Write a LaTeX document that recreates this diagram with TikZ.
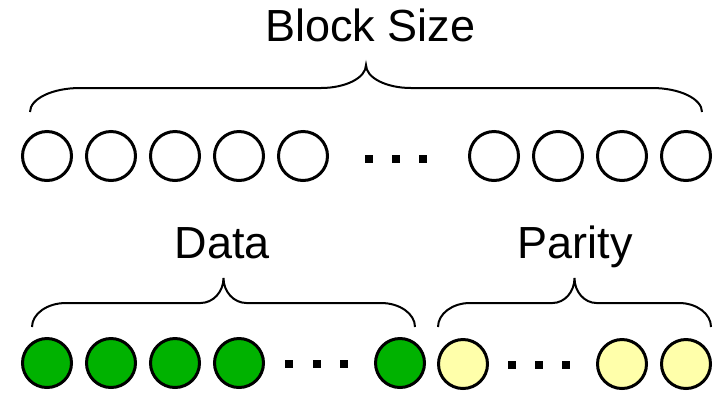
\documentclass[tikz,border=0pt]{standalone}
\usepackage{fontspec}
\setmainfont{Liberation Sans}
\definecolor{dgreen}{RGB}{0,178,0}
\definecolor{pyellow}{RGB}{255,255,170}
\newcommand\drawbrace[7]{% x1 x2 yb yf yt e m
  \draw[bracestyle] (#1,#3) .. controls (#1,{#3-0.552*(#3-#4)}) and ({#1+0.448*#6},#4) .. ({#1+#6},#4)
    -- ({(#1+#2)/2-#7},#4) .. controls ({(#1+#2)/2-0.448*#7},#4) and ({(#1+#2)/2},{#5+0.552*(#4-#5)}) .. ({(#1+#2)/2},#5)
    .. controls ({(#1+#2)/2},{#5+0.552*(#4-#5)}) and ({(#1+#2)/2+0.448*#7},#4) .. ({(#1+#2)/2+#7},#4)
    -- ({#2-#6},#4) .. controls ({#2-0.448*#6},#4) and (#2,{#3-0.552*(#3-#4)}) .. (#2,#3);}
\begin{document}
\begin{tikzpicture}[x=1pt,y=-1pt,
  cell/.style={circle,draw=black,line width=3pt,minimum size=49pt,inner sep=0pt},
  wcell/.style={cell,fill=white},
  gcell/.style={cell,fill=dgreen},
  ycell/.style={cell,fill=pyellow},
  dotsq/.style={rectangle,fill=black,minimum size=7.5pt,inner sep=0pt},
  lbl/.style={font=\fontsize{45}{54}\selectfont,inner sep=0pt,anchor=base},
  bracestyle/.style={line width=2pt,black}]
\useasboundingbox (0,0) rectangle (719,392);
% labels
\node[lbl] (tblock) at (370.5,41) {Block Size};
\node[lbl] (tdata) at (222.5,258) {Data};
\node[lbl] (tparity) at (575,258) {Parity};
% braces
\drawbrace{30}{702}{112}{88}{65}{50}{45}
\drawbrace{32}{415}{327}{303}{278}{34}{23}
\drawbrace{438}{711}{327}{303}{278}{32}{22}
% top row
\foreach \x [count=\i] in {47,111,175,239,303,494,558,622,686}
  \node[wcell] (w\i) at (\x,156) {};
\foreach \x [count=\i] in {369,396,423}
  \node[dotsq] (td\i) at (\x,159) {};
% bottom row
\foreach \x [count=\i] in {47,111,175,239,400}
  \node[gcell] (g\i) at (\x,363) {};
\foreach \x [count=\i] in {463,622,686}
  \node[ycell] (y\i) at (\x,364) {};
\foreach \x [count=\i] in {289,317,344}
  \node[dotsq] (bd\i) at (\x,364) {};
\foreach \x [count=\i] in {512,539,566}
  \node[dotsq] (pd\i) at (\x,365) {};
\end{tikzpicture}
\end{document}
